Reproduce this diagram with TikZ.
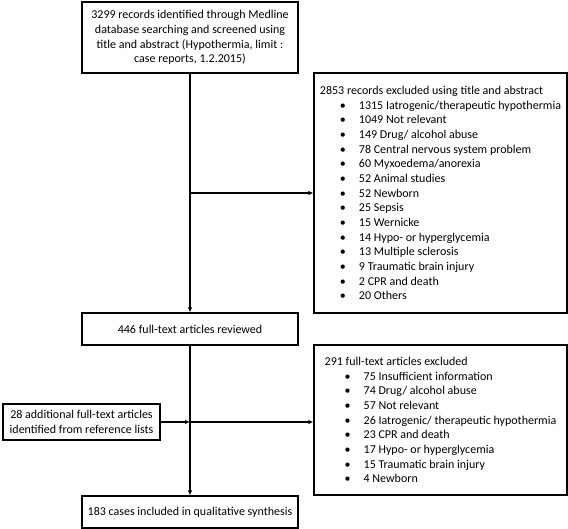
\documentclass[tikz,border=0pt]{standalone}
\usepackage{fontspec}
\setmainfont{Carlito}
\usetikzlibrary{arrows.meta}
\newcommand{\itm}[1]{\hspace*{20pt}\makebox[19pt][l]{\textbullet}#1}
\begin{document}
\begin{tikzpicture}[x=1pt,y=-1pt,
  box/.style={draw,line width=1.2pt,rectangle,inner sep=0pt,font=\fontsize{12}{14.65}\selectfont},
  conn/.style={line width=1.2pt,-{Latex[length=5pt,width=4.5pt]}}]
\useasboundingbox (0,0) rectangle (568,529);
\node[box,minimum width=216pt,minimum height=71pt,align=center] (top) at (190,37.5)
 {3299 records identified through Medline\\database searching and screened using\\title and abstract (Hypothermia, limit :\\case reports, 1.2.2015)};
\node[box,minimum width=253pt,minimum height=240pt,align=left] (ex1) at (440.5,193)
 {2853 records excluded using title and abstract\\
 \itm{1315 Iatrogenic/therapeutic hypothermia}\\
 \itm{1049 Not relevant}\\
 \itm{149 Drug/ alcohol abuse}\\
 \itm{78 Central nervous system problem}\\
 \itm{60 Myxoedema/anorexia}\\
 \itm{52 Animal studies}\\
 \itm{52 Newborn}\\
 \itm{25 Sepsis}\\
 \itm{15 Wernicke}\\
 \itm{14 Hypo- or hyperglycemia}\\
 \itm{13 Multiple sclerosis}\\
 \itm{9 Traumatic brain injury}\\
 \itm{2 CPR and death}\\
 \itm{20 Others}};
\node[box,minimum width=216pt,minimum height=32pt] (rev) at (190,329) {446 full-text articles reviewed};
\node[box,minimum width=253pt,minimum height=150pt,align=left] (ex2) at (440.5,420)
 {291 full-text articles excluded\\
 \itm{75 Insufficient information}\\
 \itm{74 Drug/ alcohol abuse}\\
 \itm{57 Not relevant}\\
 \itm{26 Iatrogenic/ therapeutic hypothermia}\\
 \itm{23 CPR and death}\\
 \itm{17 Hypo- or hyperglycemia}\\
 \itm{15 Traumatic brain injury}\\
 \itm{4 Newborn}};
\node[box,minimum width=157pt,minimum height=36pt,align=center] (add) at (81.5,422)
 {28 additional full-text articles\\identified from reference lists};
\node[box,minimum width=216pt,minimum height=32pt] (inc) at (190,512) {183 cases included in qualitative synthesis};
\coordinate (j1) at (top.south |- ex1.west);
\coordinate (j2) at (rev.south |- add.east);
\draw[conn] (top.south) -- (rev.north);
\draw[conn] (j1) -- (ex1.west);
\draw[conn] (rev.south) -- (inc.north);
\draw[conn] (j2) -- (j2 -| ex2.west);
\draw[conn] (add.east) -- (j2);
\end{tikzpicture}
\end{document}
